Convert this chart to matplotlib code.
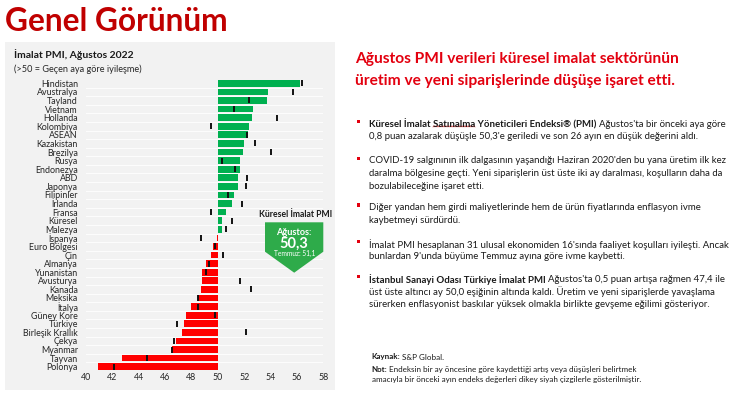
import matplotlib
matplotlib.use("Agg")
import matplotlib.pyplot as plt
from matplotlib.patches import Rectangle, Polygon
from matplotlib.lines import Line2D
import numpy as np

plt.rcParams['font.family'] = ['Lato', 'DejaVu Sans']

categories = ["Hindistan", "Avustralya", "Tayland", "Vietnam", "Hollanda", "Kolombiya",
              "ASEAN", "Kazakistan", "Brezilya", "Rusya", "Endonezya", "ABD", "Japonya",
              "Filipinler", "İrlanda", "Fransa", "Küresel", "Malezya", "İspanya",
              "Euro Bölgesi", "Çin", "Almanya", "Yunanistan", "Avusturya", "Kanada",
              "Meksika", "İtalya", "Güney Kore", "Türkiye", "Birleşik Krallık", "Çekya",
              "Myanmar", "Tayvan", "Polonya"]
august = [56.2, 53.8, 53.7, 52.7, 52.6, 52.4, 52.3, 52.0, 51.9, 51.7, 51.7, 51.5, 51.5,
          51.2, 51.1, 50.6, 50.3, 50.3, 49.9, 49.6, 49.5, 49.1, 48.8, 48.8, 48.7,
          48.5, 48.0, 47.6, 47.4, 47.3, 46.8, 46.5, 42.7, 40.9]
july = [56.4, 55.7, 52.4, 51.2, 54.5, 49.5, 52.2, 52.8, 54.0, 50.3, 51.3, 52.2, 52.1,
        50.8, 51.8, 49.5, 51.1, 50.6, 48.7, 49.8, 50.4, 49.3, 49.1, 51.7, 52.5,
        48.5, 48.5, 49.8, 46.9, 52.1, 46.7, 46.5, 44.6, 42.1]
xticks = [40, 42, 44, 46, 48, 50, 52, 54, 56, 58]
baseline = 50.0
global_aug = "50,3"
global_jul = "Temmuz: 51,1"

W, H = 740, 395
fig = plt.figure(figsize=(W / 100, H / 100), dpi=100)
fig.patch.set_facecolor("white")

def fx(x):
    return x / W

def fy(y):
    return 1 - y / H

# gray panel
fig.add_artist(Rectangle((fx(5), fy(390)), fx(330), (390 - 42) / H,
                         transform=fig.transFigure, facecolor="#f2f2f2",
                         edgecolor="none", zorder=0))

# main title
fig.text(fx(5), fy(19), "Genel Görünüm", color="#c00000", fontsize=22.8,
         fontweight="bold", ha="left", va="center_baseline")

# chart titles
fig.text(fx(14), fy(54), "İmalat PMI, Ağustos 2022", color="#1a1a1a", fontsize=7.5,
         fontweight="bold", ha="left", va="center_baseline")
fig.text(fx(14), fy(68), "(>50 = Geçen aya göre iyileşme)", color="#262626", fontsize=6.6,
         ha="left", va="center_baseline")

# axes
ax_left, ax_right = 86, 323.3
row_top, row_bot = 83.3, 366.7
n = len(categories)
step = (row_bot - row_top) / (n - 1)
top_px = row_top - step / 2
bot_px = row_bot + step / 2
ax = fig.add_axes([fx(ax_left), 1 - bot_px / H, (ax_right - ax_left) / W, (bot_px - top_px) / H])
ax.set_facecolor("none")
y = np.arange(n)
vals = np.array(august)
colors = ["#00b050" if v >= baseline else "#ff0000" for v in vals]
for i in range(n - 1):
    ax.axhline(i + 0.5, color="white", lw=0.6, zorder=0)
ax.barh(y, vals - baseline, left=baseline, height=0.78, color=colors, zorder=2)
ax.scatter(july, y, marker="|", s=20, linewidths=1.4, color="#111111", zorder=3)
ax.set_xlim(40, 58)
ax.set_ylim(n - 0.5, -0.5)
ax.set_xticks(xticks)
ax.set_xticklabels([str(t) for t in xticks])
ax.set_yticks(y)
ax.set_yticklabels(categories)
ax.tick_params(axis="both", length=0, labelsize=6.4, colors="#262626")
ax.tick_params(axis="y", pad=5.8)
ax.tick_params(axis="x", pad=1.2)
for s in ax.spines.values():
    s.set_visible(False)

# callout
fig.text(fx(295.5), fy(213.5), "Küresel İmalat PMI", color="#1a1a1a", fontsize=6.2,
         fontweight="bold", ha="center", va="center_baseline")
pts = [(265, 222.3), (323.3, 222.3), (323.3, 251.7), (294.2, 272.7), (265, 251.7)]
fig.add_artist(Polygon([(fx(a), fy(b)) for a, b in pts], closed=True,
                       transform=fig.transFigure, facecolor="#2eab4a", edgecolor="none"))
fig.text(fx(294.2), fy(231.5), "Ağustos:", color="white", fontsize=6.6,
         fontweight="bold", ha="center", va="center_baseline")
fig.text(fx(294.2), fy(242.5), global_aug, color="white", fontsize=10.5,
         fontweight="bold", ha="center", va="center_baseline")
fig.text(fx(294.2), fy(253), global_jul, color="white", fontsize=4.8,
         ha="center", va="center_baseline")

# right side heading
red2 = "#e3000f"
fig.text(fx(355), fy(57), "Ağustos PMI verileri küresel imalat sektörünün", color=red2,
         fontsize=11.2, fontweight="bold", ha="left", va="center_baseline")
fig.text(fx(355), fy(80), "üretim ve yeni siparişlerinde düşüşe işaret etti.", color=red2,
         fontsize=11.2, fontweight="bold", ha="left", va="center_baseline")

fig.canvas.draw()
renderer = fig.canvas.get_renderer()

def measure(txt, size, bold):
    t = fig.text(0, 0, txt, fontsize=size, fontweight="bold" if bold else "normal")
    w = t.get_window_extent(renderer).width
    t.remove()
    return w

def mixed(x, ypx, segments, size, color="#1a1a1a"):
    cur = x
    for txt, bold in segments:
        t = fig.text(fx(cur), fy(ypx), txt, color=color, fontsize=size,
                     fontweight="bold" if bold else "normal", ha="left",
                     va="center_baseline")
        bb = t.get_window_extent(renderer)
        cur = bb.x1 + size / 0.72 * 0.26
    return cur

body = 6.9
bullets = [
    (121.7, [[("Küresel İmalat Satınalma Yöneticileri Endeksi® (PMI)", True),
              ("Ağustos'ta bir önceki aya göre", False)],
             [("0,8 puan azalarak düşüşle 50,3'e geriledi ve son 26 ayın en düşük değerini aldı.", False)]]),
    (158.3, [[("COVID-19 salgınının ilk dalgasının yaşandığı Haziran 2020'den bu yana üretim ilk kez", False)],
             [("daralma bölgesine geçti. Yeni siparişlerin üst üste iki ay daralması, koşulların daha da", False)],
             [("bozulabileceğine işaret etti.", False)]]),
    (205.0, [[("Diğer yandan hem girdi maliyetlerinde hem de ürün fiyatlarında enflasyon ivme", False)],
             [("kaybetmeyi sürdürdü.", False)]]),
    (241.7, [[("İmalat PMI hesaplanan 31 ulusal ekonomiden 16'sında faaliyet koşulları iyileşti. Ancak", False)],
             [("bunlardan 9'unda büyüme Temmuz ayına göre ivme kaybetti.", False)]]),
    (276.7, [[("İstanbul Sanayi Odası Türkiye İmalat PMI", True),
              ("Ağustos'ta 0,5 puan artışa rağmen 47,4 ile", False)],
             [("üst üste altıncı ay 50,0 eşiğinin altında kaldı. Üretim ve yeni siparişlerde yavaşlama", False)],
             [("sürerken enflasyonist baskılar yüksek olmakla birlikte gevşeme eğilimi gösteriyor.", False)]]),
]
lh = 12.6
tx = 369
for y0, lines in bullets:
    fig.add_artist(Rectangle((fx(356.5), fy(y0 + 1.5)), 3.3 / W, 3.3 / H,
                             transform=fig.transFigure, facecolor=red2, edgecolor="none"))
    for k, segs in enumerate(lines):
        mixed(tx, y0 + k * lh + 1.5, segs, body)

# spell-check style wavy underline under "Satınalma"
x0 = tx + measure("Küresel İmalat ", body, True)
x1 = tx + measure("Küresel İmalat Satınalma", body, True)
wx = np.arange(x0, x1, 1.0)
wy = 121.7 + 1.5 + 3.2 + 0.6 * np.where((np.arange(len(wx)) % 2) == 0, 1, -1)
fig.add_artist(Line2D(fx(wx), fy(wy), transform=fig.transFigure, color="#e03030", lw=0.5))

# footnotes
fn = 5.8
mixed(371.7, 356.5, [("Kaynak:", True), ("S&P Global.", False)], fn)
mixed(371.7, 369, [("Not:", True),
                   ("Endeksin bir ay öncesine göre kaydettiği artış veya düşüşleri belirtmek", False)], fn)
mixed(371.7, 379, [("amacıyla bir önceki ayın endeks değerleri dikey siyah çizgilerle gösterilmiştir.", False)], fn)

fig.savefig("out.png", dpi=100, facecolor="white")
